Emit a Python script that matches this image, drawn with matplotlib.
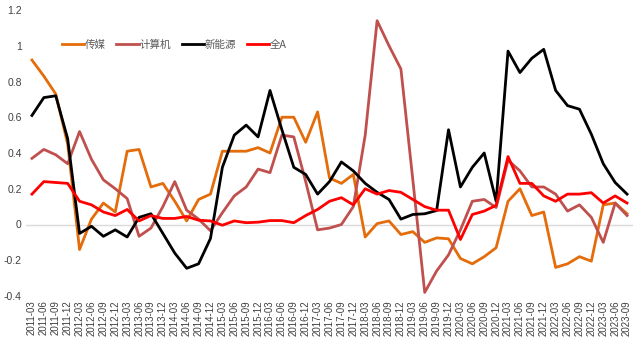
import matplotlib
matplotlib.use("Agg")
import matplotlib.pyplot as plt
from matplotlib.ticker import FuncFormatter

plt.rcParams['font.family'] = ['Noto Sans CJK SC', 'DejaVu Sans']

# 季度标签 2011-03 ... 2023-09
quarters = [f"{y}-{m}" for y in range(2011, 2024) for m in ("03", "06", "09", "12")][:51]

media = [0.92, 0.83, 0.73, 0.45, -0.14, 0.03, 0.12, 0.07, 0.41, 0.42,
         0.21, 0.23, 0.13, 0.02, 0.14, 0.17, 0.41, 0.41, 0.41, 0.43,
         0.40, 0.60, 0.60, 0.46, 0.63, 0.26, 0.23, 0.28, -0.07, 0.005,
         0.02, -0.056, -0.04, -0.10, -0.075, -0.08, -0.19, -0.22, -0.18, -0.13,
         0.13, 0.20, 0.05, 0.07, -0.24, -0.22, -0.18, -0.205, 0.11, 0.12,
         0.06]
computer = [0.37, 0.42, 0.39, 0.34, 0.52, 0.365, 0.25, 0.20, 0.145, -0.066,
            -0.02, 0.10, 0.24, 0.08, 0.03, -0.035, 0.066, 0.16, 0.21, 0.31,
            0.29, 0.50, 0.49, 0.24, -0.03, -0.02, 0.0, 0.10, 0.50, 1.14,
            1.00, 0.87, 0.25, -0.38, -0.26, -0.17, -0.03, 0.13, 0.14, 0.095,
            0.36, 0.30, 0.21, 0.21, 0.17, 0.075, 0.11, 0.04, -0.10, 0.12,
            0.05]
new_energy = [0.61, 0.71, 0.72, 0.48, -0.05, -0.01, -0.066, -0.03, -0.07, 0.04,
              0.06, -0.05, -0.16, -0.245, -0.22, -0.078, 0.32, 0.50, 0.556, 0.49,
              0.75, 0.53, 0.32, 0.28, 0.17, 0.24, 0.35, 0.30, 0.23, 0.18,
              0.14, 0.03, 0.056, 0.06, 0.078, 0.53, 0.21, 0.32, 0.40, 0.13,
              0.97, 0.85, 0.93, 0.98, 0.75, 0.665, 0.645, 0.505, 0.34, 0.235,
              0.17]
all_a = [0.17, 0.24, 0.235, 0.23, 0.13, 0.11, 0.07, 0.05, 0.084, 0.02,
         0.05, 0.034, 0.034, 0.045, 0.024, 0.02, -0.004, 0.02, 0.01, 0.013,
         0.022, 0.022, 0.01, 0.05, 0.084, 0.13, 0.15, 0.11, 0.20, 0.17,
         0.19, 0.18, 0.14, 0.10, 0.08, 0.08, -0.084, 0.056, 0.075, 0.107,
         0.38, 0.23, 0.23, 0.16, 0.13, 0.17, 0.17, 0.178, 0.12, 0.16,
         0.12]

series = [("传媒", media, "#E46C0A"),
          ("计算机", computer, "#C0504D"),
          ("新能源", new_energy, "#000000"),
          ("全A", all_a, "#FF0000")]

fig = plt.figure(figsize=(6.4, 3.44), dpi=100)
ax = fig.add_axes([26 / 640, 48 / 344, 607 / 640, 286 / 344])

x = list(range(len(quarters)))
ax.axhline(0, color="#D9D9D9", linewidth=1, zorder=1)
for name, vals, color in series:
    ax.plot(x, vals, color=color, linewidth=2, label=name, zorder=2)

ax.set_xlim(-0.5, len(quarters) - 0.5)
ax.set_ylim(-0.4, 1.2)
ax.set_yticks([-0.4, -0.2, 0, 0.2, 0.4, 0.6, 0.8, 1.0, 1.2])
ax.yaxis.set_major_formatter(FuncFormatter(lambda v, p: f"{v:g}"))
ax.set_xticks(x)
ax.set_xticklabels(quarters, rotation=90, fontsize=7, color="#404040",
                   family=["Liberation Sans", "DejaVu Sans"])
for lab in ax.get_yticklabels():
    lab.set_fontsize(7.5)
    lab.set_color("#404040")
    lab.set_family(["Liberation Sans", "DejaVu Sans"])
ax.tick_params(length=0, pad=3)
for s in ax.spines.values():
    s.set_visible(False)

ax.legend(loc="center left", bbox_to_anchor=(0.043, 0.878), ncol=4, frameon=False,
          fontsize=7.6, labelcolor="#595959", handlelength=2.1, handletextpad=0.1,
          columnspacing=1.0)

fig.savefig("out.png", dpi=100)
plt.close(fig)
